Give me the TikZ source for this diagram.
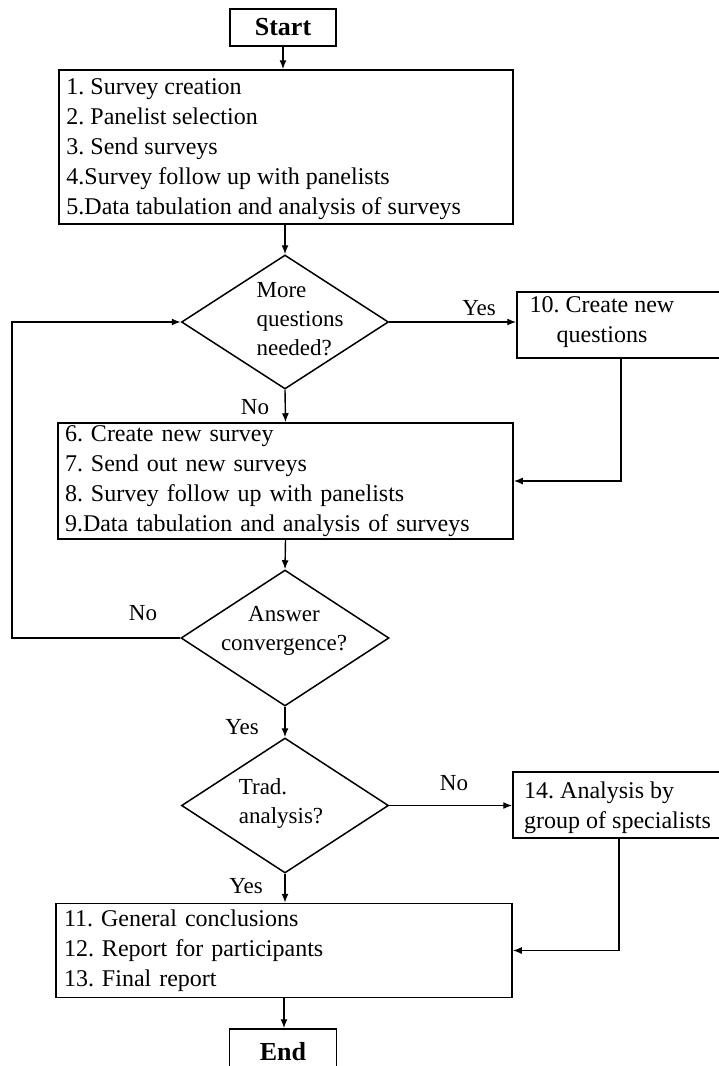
\documentclass[tikz,border=0pt]{standalone}
\usepackage{fontspec}
\setmainfont{Liberation Serif}
\usetikzlibrary{positioning,arrows.meta,shapes.geometric,calc}
\tikzset{
  flowbox/.style={draw, line width=1.5pt, inner sep=0pt},
  flowtext/.style={font=\fontsize{24}{30}\selectfont, align=left, inner sep=0pt},
  flowdec/.style={draw, diamond, line width=1.5pt, inner sep=0pt},
  dectext/.style={font=\fontsize{23}{29}\selectfont, inner sep=0pt},
  flowarrow/.style={-{Latex[length=9pt,width=7pt]}, line width=1.4pt},
  flowlabel/.style={font=\fontsize{23}{28}\selectfont, inner sep=0pt},
  termbox/.style={flowbox, font=\fontsize{26}{30}\bfseries\selectfont},
}
\frenchspacing

\begin{document}
\begin{tikzpicture}[x=1pt, y=-1pt]
  \useasboundingbox (0,0) rectangle (719,1066);
  \clip (0,0) rectangle (719,1066);
  % first round
  \node[termbox, minimum width=106pt, minimum height=37pt] (start) at (283,27.5) {Start};
  \node[flowbox, minimum width=454pt, minimum height=154pt] (box1) at (286,147) {};
  \node[flowtext, anchor=north west] (box1t) at ($(box1.north west)+(8,9)$)
    {1. Survey creation\\2. Panelist selection\\3. Send surveys\\4.Survey follow up with panelists\\5.Data tabulation and analysis of surveys};
  \node[flowdec, minimum width=207pt, minimum height=134pt] (d1) at (285,322) {};
  \node[dectext, align=left] (d1t) at (300,319) {More\\questions\\needed?};
  \node[flowbox, minimum width=208pt, minimum height=66pt] (q10) at (621,325) {};
  \node[flowtext, align=center] (q10t) at (602,322.5) {10. Create new\\questions};
  % second round
  \node[flowbox, flowtext, minimum width=455pt, minimum height=116pt, text width=441pt] (box2) at (285.5,481)
    {6. Create new survey\\7. Send out new surveys\\8. Survey follow up with panelists\\9.Data tabulation and analysis of surveys};
  \node[flowdec, minimum width=208pt, minimum height=136pt] (d2) at (285,638) {};
  \node[dectext, align=center] (d2t) at (284,631) {Answer\\convergence?};
  % analysis
  \node[flowdec, minimum width=207pt, minimum height=135pt] (d3) at (285,805.5) {};
  \node[dectext, align=left] (d3t) at (281,803) {Trad.\\analysis?};
  \node[flowbox, minimum width=212pt, minimum height=66pt] (s14) at (619,805) {};
  \node[flowtext, anchor=west] (s14t) at (524,807.5) {14. Analysis by\\group of specialists};
  \node[flowbox, flowtext, minimum width=456pt, minimum height=94pt, text width=440pt] (box3) at (284,950.5)
    {11. General conclusions\\12. Report for participants\\13. Final report};
  \node[termbox, minimum width=107pt, minimum height=46pt] (end) at (283,1052) {End};

  % connectors
  \draw[flowarrow] (start.south) -- (start.south |- box1.north);
  \draw[flowarrow] (d1.north |- box1.south) -- (d1.north);
  \draw[flowarrow] (d1.east) -- (d1.east -| q10.west);
  \node[flowlabel] (yes1) at (479,308) {Yes};
  \draw[flowarrow] (d1.south) -- (box2.north);
  \node[flowlabel] (no1) at (255,407) {No};
  \draw[flowarrow] (q10.south) |- (box2.east);
  \draw[flowarrow] (box2.south) -- (d2.north);
  \coordinate (loop) at (12,638);
  \draw[flowarrow] (d2.west) -- (loop) |- (d1.west);
  \node[flowlabel] (no2) at (143,613) {No};
  \draw[flowarrow] (d2.south) -- (d3.north);
  \node[flowlabel] (yes2) at (242,727) {Yes};
  \draw[flowarrow] (d3.east) -- (d3.east -| s14.west);
  \node[flowlabel] (no3) at (454,783) {No};
  \draw[flowarrow] (s14.south) |- (box3.east);
  \draw[flowarrow] (d3.south) -- (d3.south |- box3.north);
  \node[flowlabel] (yes3) at (246,886) {Yes};
  \draw[flowarrow] (box3.south) -- (box3.south |- end.north);
\end{tikzpicture}
\end{document}
